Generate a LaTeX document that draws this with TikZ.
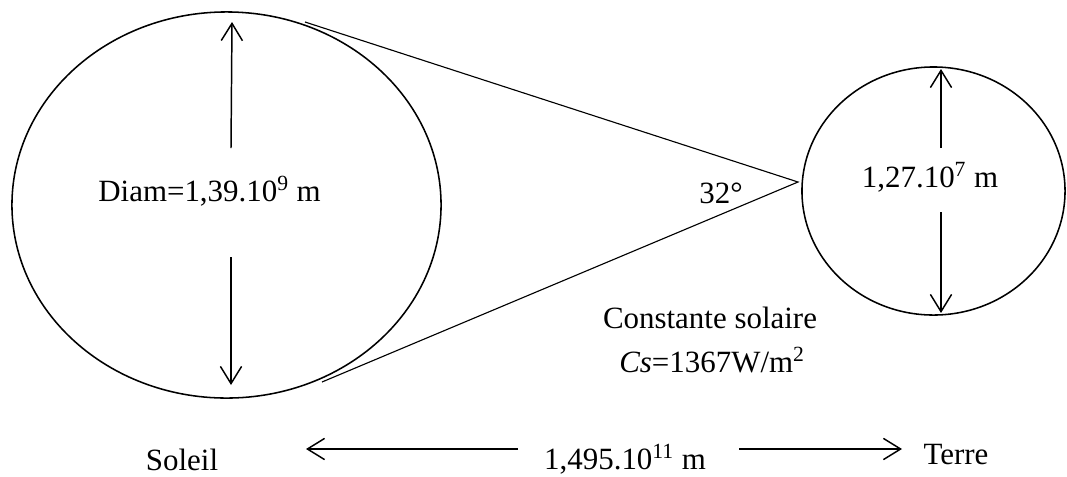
\documentclass[tikz,border=0pt]{standalone}
\usepackage{fontspec}
\setmainfont{Liberation Serif}
\usetikzlibrary{arrows.meta, shapes.geometric}

\begin{document}
\begin{tikzpicture}[
    x=0.025cm, y=-0.025cm,
    body/.style    = {draw, ellipse, line width=1.1pt, inner sep=0pt, outer sep=0pt},
    dimarrow/.style = {-{Straight Barb[length=4.3mm, width=5.3mm]}, line width=1.05pt},
    ray/.style     = {line width=0.8pt},
    lbl/.style     = {font=\fontsize{22}{26}\selectfont, inner sep=0pt, anchor=base},
]
\useasboundingbox (0,0) rectangle (1067,476);

%% Sun and Earth
\node[body, minimum width=10.725cm, minimum height=9.65cm] (sun)   at (226.5,205) {};
\node[body, minimum width=6.575cm,  minimum height=6.2cm]  (earth) at (933.5,191) {};

%% Cone of rays
\coordinate (tantop) at (305,22);
\coordinate (tanbot) at (322,382);
\coordinate (apex)   at (798,182);
\draw[ray] (tantop) -- (apex) -- (tanbot);

%% Sun diameter
\coordinate (sdtop0) at (231,148);
\coordinate (sdtop1) at (232,22);
\coordinate (sdbot0) at (231,257);
\coordinate (sdbot1) at (231,385);
\draw[dimarrow] (sdtop0) -- (sdtop1);
\draw[dimarrow] (sdbot0) -- (sdbot1);
\node[lbl] (sunlbl) at (209.5,201) {Diam=1,39.10\textsuperscript{9} m};

%% Earth diameter
\coordinate (edtop0) at (941,148);
\coordinate (edtop1) at (941,69);
\coordinate (edbot0) at (941,212);
\coordinate (edbot1) at (941,313);
\draw[dimarrow] (edtop0) -- (edtop1);
\draw[dimarrow] (edbot0) -- (edbot1);
\node[lbl] (earthlbl) at (930,187) {1,27.10\textsuperscript{7} m};

%% Angle and solar constant
\node[lbl] (angle) at (721,203) {32°};
\node[lbl] (const) at (710,328) {Constante solaire};
\node[lbl] (cs)    at (712,372) {\textit{Cs}=1367W/m\textsuperscript{2}};

%% Distance
\node[lbl] (soleil) at (182,470) {Soleil};
\node[lbl] (dist)   at (625,469) {1,495.10\textsuperscript{11} m};
\node[lbl] (terre)  at (956,464) {Terre};
\coordinate (dleft0)  at (518,449);
\coordinate (dleft1)  at (306,449);
\coordinate (dright0) at (739,449);
\coordinate (dright1) at (902,449);
\draw[dimarrow] (dleft0)  -- (dleft1);
\draw[dimarrow] (dright0) -- (dright1);

\end{tikzpicture}
\end{document}
